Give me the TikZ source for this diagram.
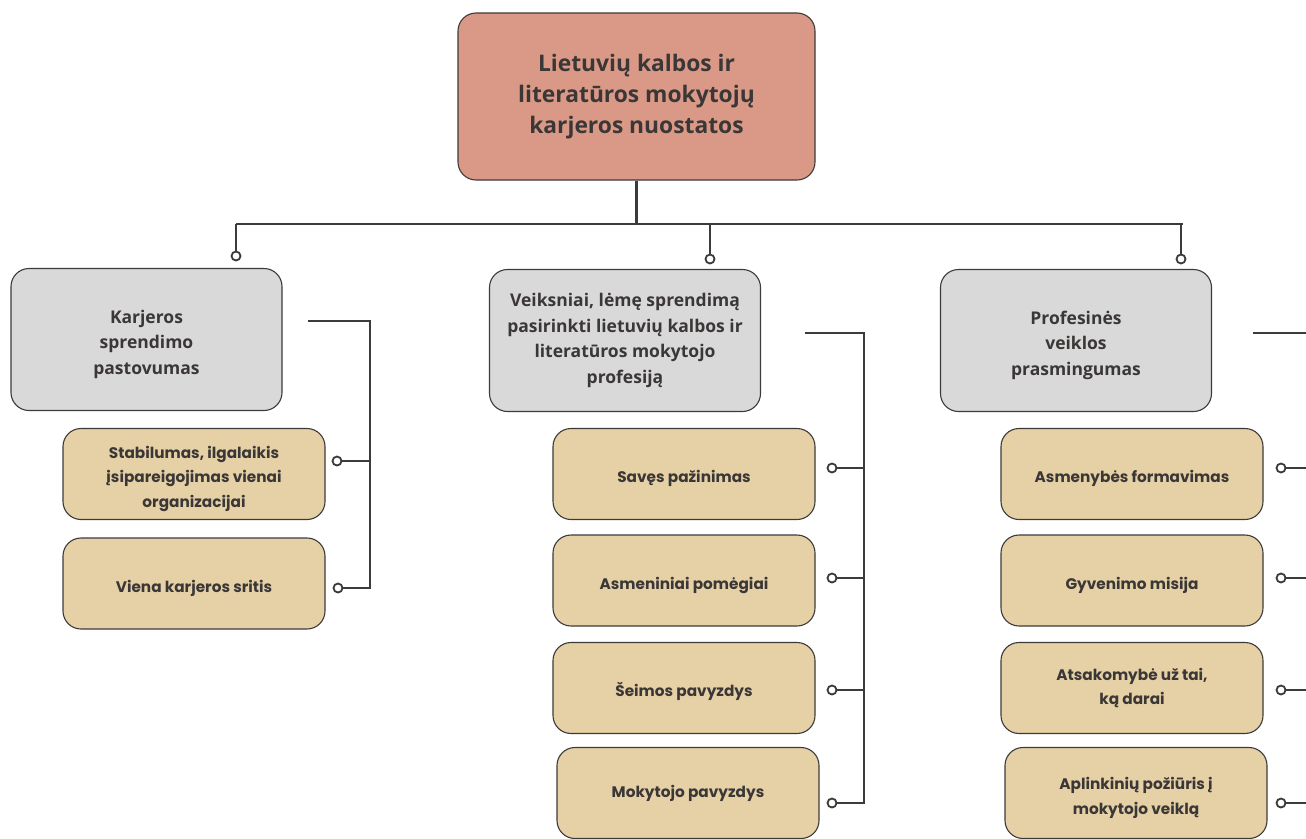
\documentclass[tikz,border=0pt]{standalone}
\usepackage{fontspec}
\setmainfont{Open Sans}
\newfontfamily\popfont{Poppins}
\definecolor{linec}{HTML}{3D3B3A}
\definecolor{txtc}{HTML}{3A3736}
\definecolor{salmon}{HTML}{DA9987}
\definecolor{graybox}{HTML}{D9D9D9}
\definecolor{tanbox}{HTML}{E6D1A7}
\newcommand{\lowtxt}[1]{\raisebox{-4pt}[\height][\depth]{\begin{tabular}{@{}c@{}}#1\end{tabular}}}
\tikzset{
  x=1pt, y=-1pt,
  boxbase/.style={draw=linec, line width=1.1pt, rounded corners=18pt, align=center, text=txtc, inner sep=0pt},
  titlebox/.style={boxbase, fill=salmon, minimum width=357pt, minimum height=167pt, font=\bfseries\fontsize{22.8}{31}\selectfont},
  catbox/.style={boxbase, fill=graybox, minimum width=271pt, minimum height=142pt, font=\bfseries\fontsize{17.5}{25.5}\selectfont},
  itembox/.style={boxbase, fill=tanbox, minimum width=262pt, minimum height=91pt, font=\popfont\bfseries\fontsize{15.3}{24.5}\selectfont},
  conn/.style={draw=linec, line width=2.4pt},
  dot/.style={circle, draw=linec, fill=white, line width=1.8pt, minimum size=9pt, inner sep=0pt},
}
\begin{document}
\begin{tikzpicture}
\useasboundingbox (0,0) rectangle (1306,838);
\fill[white] (0,0) rectangle (1306,838);

% top
\node[titlebox] (top) at (636.5,96.5) {Lietuvių kalbos ir\\literatūros mokytojų\\karjeros nuostatos};

% categories
\node[catbox] (c1) at (146.5,339.5) {\lowtxt{Karjeros\\sprendimo\\pastovumas}};
\node[catbox] (c2) at (625,340.5) {Veiksniai, lėmę sprendimą\\pasirinkti lietuvių kalbos ir\\literatūros mokytojo\\profesiją};
\node[catbox] (c3) at (1076,340.5) {\lowtxt{Profesinės\\veiklos\\prasmingumas}};

% items column 1
\node[itembox] (a1) at (194,474) {\lowtxt{Stabilumas, ilgalaikis\\įsipareigojimas vienai\\organizacijai}};
\node[itembox] (a2) at (194,583.5) {\lowtxt{Viena karjeros sritis}};

% items column 2
\node[itembox] (b1) at (684,474) {\lowtxt{Savęs pažinimas}};
\node[itembox] (b2) at (684,580.5) {\lowtxt{Asmeniniai pomėgiai}};
\node[itembox] (b3) at (684,688) {\lowtxt{Šeimos pavyzdys}};
\node[itembox] (b4) at (688,793) {Mokytojo pavyzdys};

% items column 3
\node[itembox] (d1) at (1132,474) {\lowtxt{Asmenybės formavimas}};
\node[itembox] (d2) at (1132,580.5) {\lowtxt{Gyvenimo misija}};
\node[itembox] (d3) at (1132,688) {Atsakomybė už tai,\\ką darai};
\node[itembox] (d4) at (1136,793) {\lowtxt{Aplinkinių požiūris į\\mokytojo veiklą}};

% top tree
\coordinate (hub) at (636.5,224);
\coordinate (hl) at (236,224);
\coordinate (hr) at (1183,224);
\node[dot] (t1) at (236,256) {};
\node[dot] (t2) at (710,259) {};
\node[dot] (t3) at (1181,259) {};
\draw[conn] (top.south) -- (hub);
\draw[conn] (hl) -- (hr);
\draw[conn] (hl) -- (t1.north);
\draw[conn] (t2.north |- hub) -- (t2.north);
\draw[conn] (t3.north |- hub) -- (t3.north);

% column 1 connectors
\coordinate (s1) at (308,321);
\coordinate (v1t) at (370,321);
\coordinate (v1b) at (370,588);
\node[dot] (p11) at (337,461) {};
\node[dot] (p12) at (338,588) {};
\draw[conn] (s1) -- (v1t) -- (v1b) -- (p12.east);
\draw[conn] (p11.east) -- (p11.east -| v1t);

% column 2 connectors
\coordinate (s2) at (805,333);
\coordinate (v2t) at (864,333);
\coordinate (v2b) at (864,803);
\node[dot] (p21) at (832,468) {};
\node[dot] (p22) at (832,578) {};
\node[dot] (p23) at (832,690) {};
\node[dot] (p24) at (832,803) {};
\draw[conn] (s2) -- (v2t) -- (v2b) -- (p24.east);
\draw[conn] (p21.east) -- (p21.east -| v2t);
\draw[conn] (p22.east) -- (p22.east -| v2t);
\draw[conn] (p23.east) -- (p23.east -| v2t);

% column 3 connectors
\coordinate (s3) at (1253,333);
\coordinate (e3) at (1306,333);
\node[dot] (p31) at (1281,468) {};
\node[dot] (p32) at (1281,578) {};
\node[dot] (p33) at (1281,690) {};
\node[dot] (p34) at (1281,803) {};
\coordinate (e31) at (1306,468);
\coordinate (e32) at (1306,578);
\coordinate (e33) at (1306,690);
\coordinate (e34) at (1306,803);
\draw[conn] (s3) -- (e3);
\draw[conn] (p31.east) -- (e31);
\draw[conn] (p32.east) -- (e32);
\draw[conn] (p33.east) -- (e33);
\draw[conn] (p34.east) -- (e34);
\end{tikzpicture}
\end{document}
